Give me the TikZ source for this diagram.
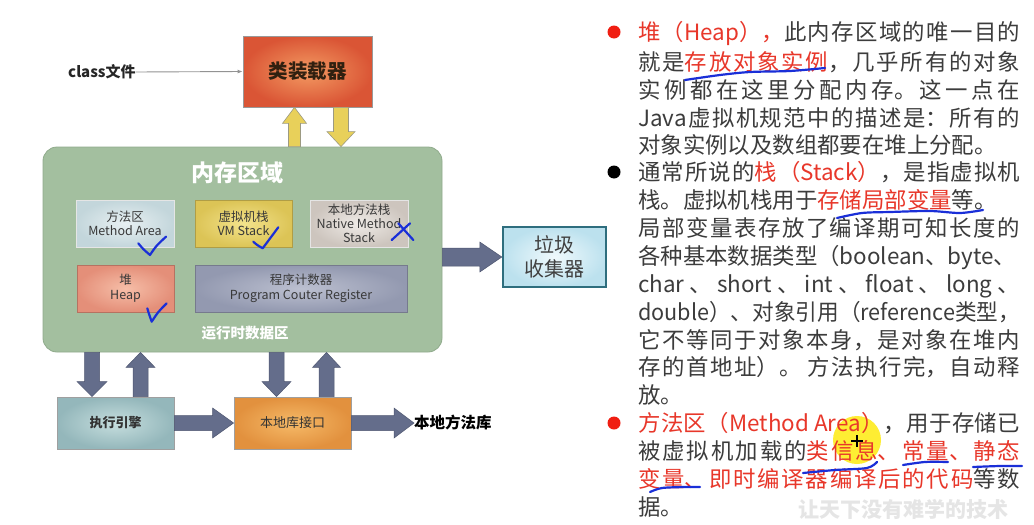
\documentclass[tikz,border=0pt]{standalone}
\usepackage{fontspec}
\usepackage{graphicx}
\setmainfont{Noto Sans CJK SC}
\usetikzlibrary{calc,arrows.meta}
\XeTeXlinebreaklocale "zh"
\XeTeXlinebreakskip=0pt plus 8pt minus 1.2pt

\definecolor{loaderin}{HTML}{F39A62}
\definecolor{loaderout}{HTML}{DA5535}
\definecolor{memfill}{HTML}{A3BF9F}
\definecolor{memedge}{HTML}{90AB8C}
\definecolor{mathin}{HTML}{E8F0F2}
\definecolor{mathout}{HTML}{C3D6DB}
\definecolor{vmin}{HTML}{F3E38C}
\definecolor{vmout}{HTML}{DCC456}
\definecolor{nmin}{HTML}{EFEBE7}
\definecolor{nmout}{HTML}{CDC5BE}
\definecolor{heapin}{HTML}{F6BEA8}
\definecolor{heapout}{HTML}{E48F79}
\definecolor{pcin}{HTML}{BCC0D0}
\definecolor{pcout}{HTML}{9399B0}
\definecolor{gcin}{HTML}{EFF9FC}
\definecolor{gcout}{HTML}{BCE1EE}
\definecolor{gcedge}{HTML}{2E6E7E}
\definecolor{exin}{HTML}{C6DEDE}
\definecolor{exout}{HTML}{94B7BB}
\definecolor{jniin}{HTML}{F6BA68}
\definecolor{jniout}{HTML}{E2913E}
\definecolor{slate}{HTML}{646D8B}
\definecolor{slateedge}{HTML}{4E5670}
\definecolor{goldfill}{HTML}{E8D05A}
\definecolor{goldedge}{HTML}{9C9A82}
\definecolor{ink}{HTML}{1A2FD8}
\definecolor{hlred}{HTML}{E8372A}
\definecolor{bodygray}{HTML}{3C3C3C}
\definecolor{dotred}{HTML}{F01E12}

% block arrow: style, from, to, half body width, half head width, head length
\newcommand\blockarrow[6]{%
  \path (#2) coordinate (bas) (#3) coordinate (bae) ($(bae)!#6!(bas)$) coordinate (bah);
  \draw[#1] ($(bas)!#4!90:(bae)$) -- ($(bah)!#4!90:(bae)$) -- ($(bah)!#5!90:(bae)$)
    -- (bae) -- ($(bah)!#5!-90:(bae)$) -- ($(bah)!#4!-90:(bae)$) -- ($(bas)!#4!-90:(bae)$) -- cycle;}

\newcommand\hl[1]{\textcolor{hlred}{#1}}
% one fully justified line of the notes
\newcommand\jl[1]{\vbox{\hsize=382pt\parindent=0pt\parfillskip=0pt\tolerance=9999
  \emergencystretch=0pt\leavevmode #1\par}}
% a justified line whose only stretch is its spaces
\newcommand\spl[1]{\hbox to 382pt{#1}}
% a line set to the column width by scaling
\newcommand\fitl[1]{\resizebox{382pt}{\height}{#1}}

\tikzset{
  rbox/.style 2 args={shading=radial, inner color=#1, outer color=#2},
  unit/.style={draw=white!80!gray, line width=1pt, inner sep=0pt, align=center,
    text=black!78, font=\fontsize{12.5}{14.5}\selectfont},
  slab/.style={draw=gray!75, line width=0.8pt, inner sep=0pt, align=center,
    text=black!80, font=\bfseries\fontsize{13}{15}\selectfont},
  slatearrow/.style={fill=slate, draw=slateedge, line width=0.5pt},
  goldarrow/.style={fill=goldfill, draw=goldedge, line width=0.6pt},
  txt/.style={anchor=west, inner sep=0pt, text height=.84em, text depth=.16em,
    text=bodygray, font=\fontsize{22.4}{27}\selectfont, yshift=-5pt},
  dot/.style={circle, inner sep=0pt, minimum size=13pt},
  pen/.style={draw=ink, line width=2.2pt, line cap=round, line join=round},
}

\begin{document}
\begin{tikzpicture}[x=1pt,y=-1pt]
\useasboundingbox (0,0) rectangle (1034,525);
\fill[white] (0,0) rectangle (1034,525);

% ---- class loader ----
\node[draw=gray!80, line width=0.8pt, rbox={loaderin}{loaderout}, minimum width=129pt,
  minimum height=71pt, font=\bfseries\fontsize{19.5}{22}\selectfont, text=black!75!brown]
  (loader) at (307.5,71.5) {类装载器};
\node[anchor=west, inner sep=0pt, font=\bfseries\fontsize{15}{17}\selectfont, text=black!85]
  (classfile) at (68,72) {class文件};
\draw[gray!85, line width=0.9pt, -{Latex[length=5pt,width=4pt]}] (classfile.east) -- (loader.west);

% ---- runtime data area ----
\node[draw=memedge, line width=0.8pt, fill=memfill, rounded corners=14pt,
  minimum width=399pt, minimum height=205pt] (mem) at (242.5,249.5) {};
\node[text=white, font=\bfseries\fontsize{23}{26}\selectfont] (memtitle) at (237,173) {内存区域};
\node[text=white, font=\bfseries\fontsize{14.5}{17}\selectfont] (memfoot) at (245,333) {运行时数据区};

\node[unit, rbox={mathin}{mathout}, minimum width=98pt, minimum height=47pt] (ma) at (125,223.5)
  {方法区\\Method Area};
\node[unit, draw=vmout!80!black, rbox={vmin}{vmout}, minimum width=97pt, minimum height=47pt] (vm) at (243.5,223.5)
  {虚拟机栈\\VM Stack};
\node[unit, rbox={nmin}{nmout}, minimum width=98pt, minimum height=47pt, font=\fontsize{12.5}{14}\selectfont]
  (nm) at (359,223.5) {本地方法栈\\Native Method\\Stack};
\node[unit, draw=heapout!80!black, rbox={heapin}{heapout}, minimum width=97pt, minimum height=47pt, font=\fontsize{12.5}{15}\selectfont]
  (heap) at (125.5,288.5) {堆\\Heap};
\node[unit, draw=pcout!80!black, rbox={pcin}{pcout}, minimum width=212pt, minimum height=47pt]
  (pc) at (301,288.5) {程序计数器\\Program Couter Register};

% ---- garbage collector ----
\node[draw=gcedge, line width=2.4pt, rbox={gcin}{gcout}, minimum width=103pt, minimum height=60pt,
  align=center, text=black!75, font=\fontsize{20}{24}\selectfont] (gc) at (554.5,257) {垃圾\\收集器};

% ---- execution engine and native interface ----
\node[slab, rbox={exin}{exout}, minimum width=117pt, minimum height=52pt] (exec) at (115.5,423) {执行引擎};
\node[slab, rbox={jniin}{jniout}, minimum width=117pt, minimum height=52pt, font=\fontsize{13}{15}\selectfont]
  (jni) at (292.5,423) {本地库接口};
\node[anchor=west, inner sep=0pt, font=\bfseries\fontsize{15.5}{18}\selectfont, text=black]
  (nlib) at (414,423) {本地方法库};

% ---- block arrows ----
\path ($(loader.south)+(-13,0)$) coordinate (lu) ($(loader.south)+(33.5,0)$) coordinate (ld);
\blockarrow{goldarrow}{mem.north -| lu}{lu}{6pt}{12pt}{16pt}
\blockarrow{goldarrow}{ld}{mem.north -| ld}{7.5pt}{14pt}{15pt}

\blockarrow{slatearrow}{gc.west -| mem.east}{gc.west}{9pt}{15pt}{22pt}

\path ($(exec.north)+(-23.5,0)$) coordinate (e1) ($(exec.north)+(25,0)$) coordinate (e2)
      ($(jni.north)+(-16,0)$) coordinate (j1) ($(jni.north)+(34,0)$) coordinate (j2);
\blockarrow{slatearrow}{mem.south -| e1}{e1}{7.5pt}{15pt}{15pt}
\blockarrow{slatearrow}{e2}{mem.south -| e2}{7.5pt}{14.5pt}{15pt}
\blockarrow{slatearrow}{mem.south -| j1}{j1}{7.5pt}{14.5pt}{15pt}
\blockarrow{slatearrow}{j2}{mem.south -| j2}{7.5pt}{14pt}{15pt}
\blockarrow{slatearrow}{exec.east}{jni.west}{7.5pt}{15pt}{21pt}
\blockarrow{slatearrow}{jni.east}{nlib.west}{7.5pt}{15pt}{20pt}

% ---- hand-drawn marks on the diagram ----
\draw[pen] (138.3,243.3) .. controls (143,249) .. (150,255) .. controls (156,246) .. (166,236.7);
\draw[pen] (253.3,241.7) .. controls (257,245) .. (262.7,248.3) .. controls (270,238) .. (278.3,227.3);
\draw[pen] (147.3,308.3) .. controls (149,314) .. (151.7,321.7) .. controls (158,312) .. (166.7,303.3);
\draw[pen] (391.7,240) -- (410,223.3);
\draw[pen] (398.3,223.3) -- (413.3,240);

% ---- pointer highlight ----
\fill[yellow!92!orange, opacity=0.8] (857,440) circle (24pt);
\draw[black, line width=1.2pt] (851,441) -- (863,441) (857,435) -- (857,447);

% ---- notes ----
\node[dot, fill=dotred] (b1) at (614,32) {};
\node[dot, fill=black] (b2) at (614,172) {};
\node[dot, fill=dotred] (b3) at (614,423) {};

\node[txt] (t1) at (638,32) {\jl{\hl{堆（Heap），}此内存区域的唯一目的}};
\node[txt] (t2) at (638,62) {\jl{就是\hl{存放对象实例}，几乎所有的对象}};
\node[txt] (t3) at (638,90) {\jl{实例都在这里分配内存。这一点在}};
\node[txt] (t4) at (638,118) {\jl{Java虚拟机规范中的描述是：所有的}};
\node[txt] (t5) at (638,145) {对象实例以及数组都要在堆上分配。};
\node[txt] (t6) at (638,172) {\jl{通常所说的\hl{栈（Stack）}，是指虚拟机}};
\node[txt] (t7) at (638,200) {栈。虚拟机栈用于\hl{存储局部变量}等。};
\node[txt] (t8) at (638,228) {\jl{局部变量表存放了编译期可知长度的}};
\node[txt] (t9) at (638,256) {各种基本数据类型（boolean、byte、};
\node[txt] (t10) at (638,284) {\spl{char 、 short 、 int 、 float 、 long 、}};
\node[txt] (t11) at (638,312) {\fitl{double）、对象引用（reference类型，}};
\node[txt] (t12) at (638,340) {\jl{它不等同于对象本身，是对象在堆内}};
\node[txt] (t13) at (638,367) {\jl{存的首地址）。 方法执行完，自动释}};
\node[txt] (t14) at (638,395) {放。};
\node[txt] (t15) at (638,423) {\jl{\hl{方法区（Method Area）}，用于存储已}};
\node[txt] (t16) at (638,451) {\jl{被虚拟机加载的\hl{类信息、常量、静态}}};
\node[txt] (t17) at (638,479) {\jl{\hl{变量、即时编译器编译后的代码}等数}};
\node[txt] (t18) at (638,507) {据。};
\node[text=black!10, font=\bfseries\fontsize{21}{24}\selectfont] (mark) at (903,509) {让天下没有难学的技术};

% ---- hand-drawn underlines on the notes ----
\draw[pen] plot[smooth] coordinates {(685,80) (720,75) (750,72) (790,71) (825,68)};
\draw[pen] plot[smooth] coordinates {(837,218) (862,213) (890,212) (930,211) (960,213) (983,210)};
\draw[pen] plot[smooth] coordinates {(803,473) (835,470) (867,468) (877,462)};
\draw[pen] plot[smooth] coordinates {(903,465) (925,462) (948,462)};
\draw[pen] plot[smooth] coordinates {(973,467) (1000,466) (1022,466)};
\draw[pen] plot[smooth] coordinates {(650,492) (662,488) (685,487) (700,487)};
\end{tikzpicture}
\end{document}
